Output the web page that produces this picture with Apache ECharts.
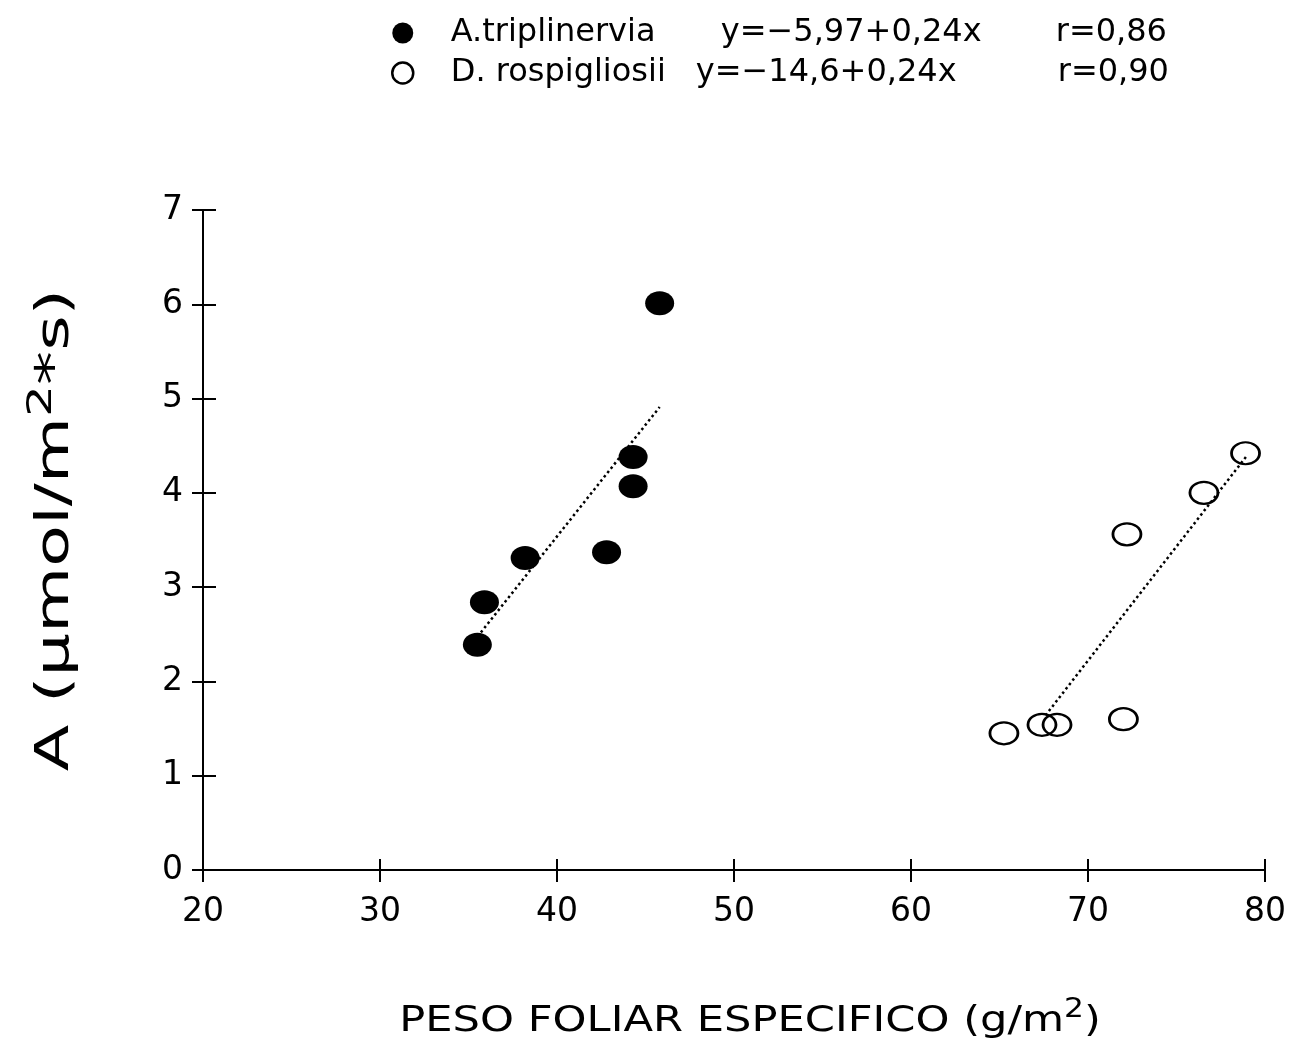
<!DOCTYPE html>
<html>
<head>
<meta charset="utf-8">
<script src="https://cdn.jsdelivr.net/npm/echarts@6/dist/echarts.min.js"></script>
<style>html,body{margin:0;padding:0;background:#fff;}#c{width:1304px;height:1049px;}</style>
</head>
<body>
<div id="c"></div>
<script>
// Data
const triplinerviaPoints = [[35.5, 2.39], [35.9, 2.84], [38.2, 3.31], [42.8, 3.37], [44.3, 4.38], [44.3, 4.07], [45.8, 6.01]];
const rospigliosiiPoints = [[65.25, 1.45], [67.4, 1.54], [68.25, 1.54], [72.0, 1.60], [72.2, 3.56], [76.55, 4.0], [78.9, 4.42]];
const triplinerviaFit = [[35.7, 2.52], [45.8, 4.91]];
const rospigliosiiFit = [[67.6, 1.64], [79.0, 4.40]];
const seriesNames = ['A.triplinervia', 'D. rospigliosii'];
const equations = ['y=\u22125,97+0,24x', 'y=\u221214,6+0,24x'];
const rValues = ['r=0,86', 'r=0,90'];
const xTicks = [20, 30, 40, 50, 60, 70, 80];
const yTicks = [0, 1, 2, 3, 4, 5, 6, 7];
const xAxisTitle = ['PESO FOLIAR ESPECIFICO (g/m', '2', ')'];
const yAxisTitle = ['A (\u03bcmol/m', '2', '*s)'];

const FONT = 'DejaVu Sans';
const chart = echarts.init(document.getElementById('c'));
const axisBase = {
  axisLine: {show: true, lineStyle: {color: '#000', width: 2}},
  splitLine: {show: false}
};
const legendRich = {
  sp: {width: 31, fontSize: 32, fontFamily: FONT},
  n0: {width: 270, fontSize: 32, fontFamily: FONT},
  e0: {width: 335, fontSize: 32, fontFamily: FONT},
  n1: {width: 245, fontSize: 32, fontFamily: FONT},
  e1: {width: 362, fontSize: 32, fontFamily: FONT},
  r: {fontSize: 32, fontFamily: FONT}
};
chart.setOption({
  backgroundColor: '#fff',
  animation: false,
  textStyle: {fontFamily: FONT, color: '#000'},
  grid: {left: 203, right: 39, top: 210, bottom: 179, containLabel: false},
  legend: {
    orient: 'vertical',
    left: 386, top: 12,
    itemGap: 8,
    itemWidth: 24, itemHeight: 21,
    data: [
      {name: seriesNames[0], icon: 'circle', itemStyle: {color: '#000', borderWidth: 0}},
      {name: seriesNames[1], icon: 'circle', itemStyle: {color: '#fff', borderColor: '#000', borderWidth: 2.5}}
    ],
    formatter: function (name) {
      const i = seriesNames.indexOf(name);
      return '{sp| }{n' + i + '|' + name + '}{e' + i + '|' + equations[i] + '}{r|' + rValues[i] + '}';
    },
    textStyle: {fontFamily: FONT, fontSize: 32, color: '#000', rich: legendRich}
  },
  graphic: [
    {
      type: 'text', x: 750, y: 1022, scaleX: 1.2, z: 10,
      style: {
        text: '{t|' + xAxisTitle[0] + '}{s|' + xAxisTitle[1] + '}{t|' + xAxisTitle[2] + '}',
        align: 'center', verticalAlign: 'middle',
        rich: {t: {fontSize: 36, fontFamily: FONT, fill: '#000'}, s: {fontSize: 26, fontFamily: FONT, fill: '#000', padding: [0, 0, 24, 0]}}
      }
    },
    {
      type: 'text', x: 56, y: 530, rotation: Math.PI / 2, scaleX: 1.48, z: 10,
      style: {
        text: '{t|' + yAxisTitle[0] + '}{s|' + yAxisTitle[1] + '}{t|' + yAxisTitle[2] + '}',
        align: 'center', verticalAlign: 'middle',
        rich: {t: {fontSize: 46, fontFamily: FONT, fill: '#000'}, s: {fontSize: 34, fontFamily: FONT, fill: '#000', padding: [0, 0, 28, 0]}}
      }
    }
  ],
  xAxis: [
    Object.assign({
      type: 'value', min: 20, max: 80, interval: 10,
      axisTick: {show: true, length: 12, lineStyle: {color: '#000', width: 2}},
      axisLabel: {fontSize: 33, color: '#000', margin: 26, fontFamily: FONT}
    }, axisBase),
    {
      type: 'value', min: 20, max: 80, interval: 10, position: 'bottom',
      axisLine: {show: false}, splitLine: {show: false}, axisLabel: {show: false},
      axisTick: {show: true, inside: true, length: 11, lineStyle: {color: '#000', width: 2}}
    }
  ],
  yAxis: [
    Object.assign({
      type: 'value', min: 0, max: 7, interval: 1,
      axisTick: {show: true, length: 11, lineStyle: {color: '#000', width: 2}},
      axisLabel: {fontSize: 33, color: '#000', margin: 20, fontFamily: FONT}
    }, axisBase),
    {
      type: 'value', min: 0, max: 7, interval: 1, position: 'left',
      axisLine: {show: false}, splitLine: {show: false}, axisLabel: {show: false},
      axisTick: {show: true, inside: true, length: 13, lineStyle: {color: '#000', width: 2}}
    }
  ],
  series: [
    {
      name: seriesNames[0], type: 'scatter', data: triplinerviaPoints,
      symbol: 'circle', symbolSize: [29, 24],
      itemStyle: {color: '#000', opacity: 1}, z: 3
    },
    {
      name: seriesNames[1], type: 'scatter', data: rospigliosiiPoints,
      symbol: 'circle', symbolSize: [28, 22],
      itemStyle: {color: 'rgba(255,255,255,0)', borderColor: '#000', borderWidth: 2.5, opacity: 1}, z: 3
    },
    {
      type: 'line', data: triplinerviaFit, symbol: 'none', silent: true,
      lineStyle: {color: '#000', width: 2.5, type: [2.5, 3]}, z: 2
    },
    {
      type: 'line', data: rospigliosiiFit, symbol: 'none', silent: true,
      lineStyle: {color: '#000', width: 2.5, type: [2.5, 3]}, z: 2
    }
  ]
});
</script>
</body>
</html>
